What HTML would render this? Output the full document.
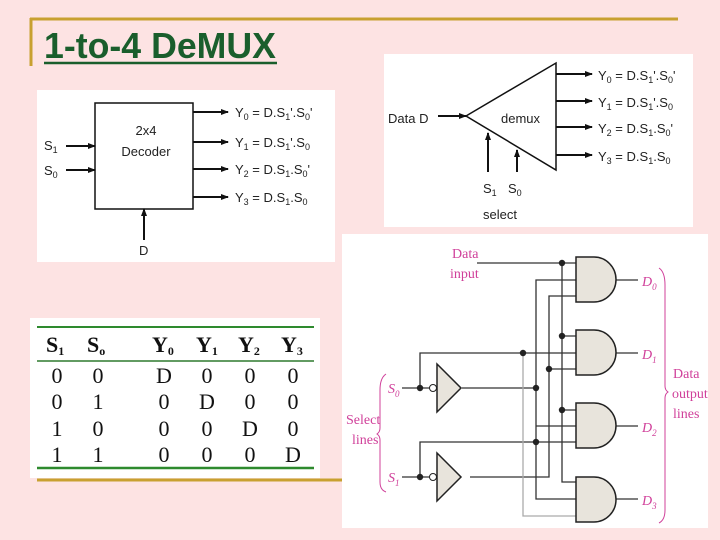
<!DOCTYPE html>
<html><head><meta charset="utf-8"><style>
html,body{margin:0;padding:0;background:#fde3e3;}
svg{display:block}
.a{font-family:"Liberation Sans",sans-serif;font-size:13px;fill:#222}
.s{font-size:9px}
.t{font-family:"Liberation Serif",serif;font-size:22px;fill:#111;text-anchor:middle}
.p{font-family:"Liberation Serif",serif;font-size:14px;fill:#d0409a}
</style></head><body>
<svg width="720" height="540" viewBox="0 0 720 540" xmlns="http://www.w3.org/2000/svg">
<defs><marker id="ar" markerWidth="8" markerHeight="8" refX="7" refY="4" orient="auto" markerUnits="userSpaceOnUse"><path d="M0,1 L8,4 L0,7 z" fill="#111"/></marker></defs>
<rect width="720" height="540" fill="#fde3e3"/>
<!-- gold frame -->
<line x1="30" y1="19" x2="678" y2="19" stroke="#c8a030" stroke-width="3"/>
<line x1="31" y1="18" x2="31" y2="66" stroke="#c8a030" stroke-width="3"/>
<line x1="37" y1="480" x2="345" y2="480" stroke="#c8a030" stroke-width="3"/>
<text x="44" y="58" font-family="Liberation Sans,sans-serif" font-weight="bold" font-size="36" fill="#1a5e2c" textLength="232" lengthAdjust="spacingAndGlyphs">1-to-4 DeMUX</text>
<line x1="44" y1="63" x2="277" y2="63" stroke="#1a5e2c" stroke-width="2.5"/>

<!-- decoder image -->
<rect x="37" y="90" width="298" height="172" fill="#fff"/>
<rect x="95" y="103" width="98" height="106" fill="none" stroke="#111" stroke-width="1.5"/>
<text class="a" x="146" y="135" text-anchor="middle">2x4</text>
<text class="a" x="146" y="156" text-anchor="middle">Decoder</text>
<g stroke="#111" stroke-width="2" marker-end="url(#ar)">
<line x1="66" y1="146" x2="95" y2="146"/><line x1="66" y1="170" x2="95" y2="170"/>
<line x1="193" y1="112" x2="228" y2="112"/><line x1="193" y1="142" x2="228" y2="142"/>
<line x1="193" y1="169" x2="228" y2="169"/><line x1="193" y1="197" x2="228" y2="197"/>
<line x1="144" y1="240" x2="144" y2="209"/>
</g>
<text class="a" x="44" y="150">S<tspan class="s" dy="3">1</tspan></text>
<text class="a" x="44" y="175">S<tspan class="s" dy="3">0</tspan></text>
<text class="a" x="139" y="255">D</text>
<text class="a" x="235" y="117">Y<tspan class="s" dy="3">0</tspan><tspan dy="-3"> = D.S</tspan><tspan class="s" dy="3">1</tspan><tspan dy="-3">'.S</tspan><tspan class="s" dy="3">0</tspan><tspan dy="-3">'</tspan></text>
<text class="a" x="235" y="147">Y<tspan class="s" dy="3">1</tspan><tspan dy="-3"> = D.S</tspan><tspan class="s" dy="3">1</tspan><tspan dy="-3">'.S</tspan><tspan class="s" dy="3">0</tspan></text>
<text class="a" x="235" y="174">Y<tspan class="s" dy="3">2</tspan><tspan dy="-3"> = D.S</tspan><tspan class="s" dy="3">1</tspan><tspan dy="-3">.S</tspan><tspan class="s" dy="3">0</tspan><tspan dy="-3">'</tspan></text>
<text class="a" x="235" y="202">Y<tspan class="s" dy="3">3</tspan><tspan dy="-3"> = D.S</tspan><tspan class="s" dy="3">1</tspan><tspan dy="-3">.S</tspan><tspan class="s" dy="3">0</tspan></text>

<!-- demux image -->
<rect x="384" y="54" width="309" height="173" fill="#fff"/>
<path d="M466,116 L556,63 L556,170 Z" fill="none" stroke="#111" stroke-width="1.5"/>
<text class="a" x="501" y="123">demux</text>
<text class="a" x="388" y="123">Data D</text>
<g stroke="#111" stroke-width="2" marker-end="url(#ar)">
<line x1="438" y1="116" x2="466" y2="116"/>
<line x1="556" y1="74" x2="592" y2="74"/><line x1="556" y1="101" x2="592" y2="101"/>
<line x1="556" y1="127" x2="592" y2="127"/><line x1="556" y1="155" x2="592" y2="155"/>
<line x1="488" y1="172" x2="488" y2="133"/><line x1="517" y1="172" x2="517" y2="150"/>
</g>
<text class="a" x="598" y="80">Y<tspan class="s" dy="3">0</tspan><tspan dy="-3"> = D.S</tspan><tspan class="s" dy="3">1</tspan><tspan dy="-3">'.S</tspan><tspan class="s" dy="3">0</tspan><tspan dy="-3">'</tspan></text>
<text class="a" x="598" y="107">Y<tspan class="s" dy="3">1</tspan><tspan dy="-3"> = D.S</tspan><tspan class="s" dy="3">1</tspan><tspan dy="-3">'.S</tspan><tspan class="s" dy="3">0</tspan></text>
<text class="a" x="598" y="133">Y<tspan class="s" dy="3">2</tspan><tspan dy="-3"> = D.S</tspan><tspan class="s" dy="3">1</tspan><tspan dy="-3">.S</tspan><tspan class="s" dy="3">0</tspan><tspan dy="-3">'</tspan></text>
<text class="a" x="598" y="161">Y<tspan class="s" dy="3">3</tspan><tspan dy="-3"> = D.S</tspan><tspan class="s" dy="3">1</tspan><tspan dy="-3">.S</tspan><tspan class="s" dy="3">0</tspan></text>
<text class="a" x="483" y="193">S<tspan class="s" dy="3">1</tspan></text>
<text class="a" x="508" y="193">S<tspan class="s" dy="3">0</tspan></text>
<text class="a" x="483" y="219">select</text>

<!-- table -->
<rect x="30" y="318" width="290" height="160" fill="#fff"/>
<line x1="37" y1="327" x2="314" y2="327" stroke="#2e8a2e" stroke-width="2"/>
<line x1="37" y1="361" x2="314" y2="361" stroke="#2e7a2e" stroke-width="1.5"/>
<line x1="37" y1="468" x2="314" y2="468" stroke="#2e8a2e" stroke-width="2.5"/>
<g font-family="Liberation Serif,serif" font-weight="bold" font-size="22" fill="#111">
<text x="46" y="352">S<tspan font-size="12" dy="3">1</tspan></text>
<text x="87" y="352">S<tspan font-size="12" dy="3">o</tspan></text>
<text x="152" y="352">Y<tspan font-size="12" dy="3">0</tspan></text>
<text x="196" y="352">Y<tspan font-size="12" dy="3">1</tspan></text>
<text x="238" y="352">Y<tspan font-size="12" dy="3">2</tspan></text>
<text x="281" y="352">Y<tspan font-size="12" dy="3">3</tspan></text>
</g>
<g class="t">
<text class="t" x="57" y="383">0</text><text class="t" x="98" y="383">0</text><text class="t" x="164" y="383">D</text><text class="t" x="207" y="383">0</text><text class="t" x="250" y="383">0</text><text class="t" x="293" y="383">0</text>
<text class="t" x="57" y="409">0</text><text class="t" x="98" y="409">1</text><text class="t" x="164" y="409">0</text><text class="t" x="207" y="409">D</text><text class="t" x="250" y="409">0</text><text class="t" x="293" y="409">0</text>
<text class="t" x="57" y="436">1</text><text class="t" x="98" y="436">0</text><text class="t" x="164" y="436">0</text><text class="t" x="207" y="436">0</text><text class="t" x="250" y="436">D</text><text class="t" x="293" y="436">0</text>
<text class="t" x="57" y="462">1</text><text class="t" x="98" y="462">1</text><text class="t" x="164" y="462">0</text><text class="t" x="207" y="462">0</text><text class="t" x="250" y="462">0</text><text class="t" x="293" y="462">D</text>
</g>

<!-- circuit -->
<rect x="342" y="234" width="366" height="294" fill="#fff"/>
<g stroke="#333" stroke-width="1.3" fill="none">
<path d="M477,263 H576"/>
<path d="M562,263 V482 H576"/>
<path d="M562,336 H576 M562,410 H576"/>
<path d="M576,280 H536 V499 H576"/>
<path d="M536,426 H576"/>
<path d="M576,296 H549 V477 H470"/>
<path d="M549,369 H576"/>
<path d="M420,388 V353 H576"/>
<path d="M402,388 H432"/>
<path d="M462,388 H536"/>
<path d="M420,477 V442 H576"/>
<path d="M402,477 H432"/>
<path d="M611,280 H638 M611,353 H638 M611,426 H638 M611,499 H638"/>
</g>
<path d="M576,516 H523 V353" stroke="#aaa" stroke-width="1.3" fill="none"/>
<g fill="#e8e4dc" stroke="#222" stroke-width="1.5">
<path d="M576,257 H594 A22,22.5 0 0 1 594,302 H576 Z"/>
<path d="M576,330 H594 A22,22.5 0 0 1 594,375 H576 Z"/>
<path d="M576,403 H594 A22,22.5 0 0 1 594,448 H576 Z"/>
<path d="M576,477 H594 A22,22.5 0 0 1 594,522 H576 Z"/>
<path d="M437,364 L461,388 L437,412 Z"/>
<path d="M437,453 L461,477 L437,501 Z"/>
</g>
<g fill="#fff" stroke="#222" stroke-width="1"><circle cx="433" cy="388" r="3.5"/><circle cx="433" cy="477" r="3.5"/></g>
<g fill="#222">
<circle cx="562" cy="263" r="3.2"/><circle cx="562" cy="336" r="3.2"/><circle cx="562" cy="410" r="3.2"/>
<circle cx="523" cy="353" r="3.2"/><circle cx="549" cy="369" r="3.2"/><circle cx="536" cy="388" r="3.2"/>
<circle cx="536" cy="442" r="3.2"/><circle cx="420" cy="388" r="3.2"/><circle cx="420" cy="477" r="3.2"/>
</g>
<g class="p">
<text x="452" y="258">Data</text><text x="450" y="278">input</text>
<text x="346" y="424">Select</text><text x="352" y="444">lines</text>
<text x="673" y="378">Data</text><text x="672" y="398">output</text><text x="673" y="418">lines</text>
<text x="388" y="393" font-style="italic">S<tspan font-size="9" dy="4">0</tspan></text>
<text x="388" y="482" font-style="italic">S<tspan font-size="9" dy="4">1</tspan></text>
<text x="642" y="286" font-style="italic">D<tspan font-size="9" dy="4">0</tspan></text>
<text x="642" y="359" font-style="italic">D<tspan font-size="9" dy="4">1</tspan></text>
<text x="642" y="432" font-style="italic">D<tspan font-size="9" dy="4">2</tspan></text>
<text x="642" y="505" font-style="italic">D<tspan font-size="9" dy="4">3</tspan></text>
</g>
<g stroke="#d0409a" stroke-width="1" fill="none">
<path d="M386,374 Q380,378 380,390 V428 Q380,432 377,434 Q380,436 380,440 V482 Q380,490 386,492"/>
<path d="M659,268 Q665,272 665,285 V386 Q665,390 668,392 Q665,394 665,398 V510 Q665,520 659,523"/>
</g>
</svg>
</body></html>
